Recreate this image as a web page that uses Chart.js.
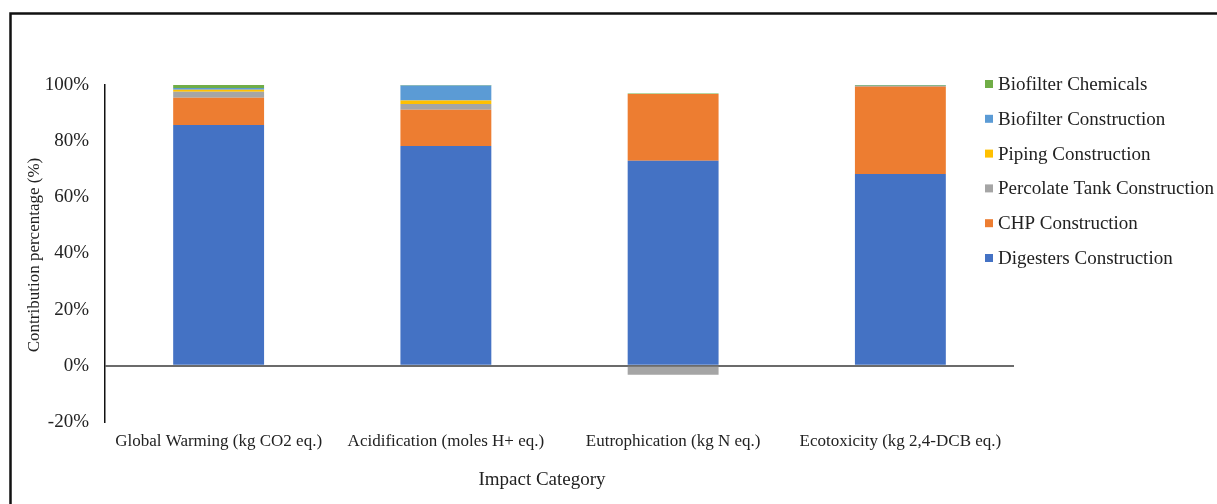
<!DOCTYPE html>
<html>
<head>
<meta charset="utf-8">
<script src="https://cdn.jsdelivr.net/npm/chart.js@4/dist/chart.umd.min.js"></script>
<style>
  html, body { margin: 0; padding: 0; background: #fff; }
  #wrap { position: relative; width: 1217px; height: 504px; }
</style>
</head>
<body>
<div id="wrap"><canvas id="c" width="1217" height="504"></canvas></div>
<script>
// Impact categories on the x axis
const categories = [
  'Global Warming (kg CO2 eq.)',
  'Acidification (moles H+ eq.)',
  'Eutrophication (kg N eq.)',
  'Ecotoxicity (kg 2,4-DCB eq.)'
];

// Contribution (%) of each component to each impact category
const digestersConstruction   = [85.8, 78.3, 73.0, 68.3];
const chpConstruction         = [9.7, 12.9, 23.8, 31.2];
const percolateTankConstruction = [2.1, 2.0, -3.2, 0];
const pipingConstruction      = [0.7, 1.3, 0, 0];
const biofilterConstruction   = [0.6, 5.3, 0, 0.2];
const biofilterChemicals      = [1.1, 0.2, 0.2, 0.3];

const yTicks = [-20, 0, 20, 40, 60, 80, 100];

const seriesNames = [
  'Digesters Construction',
  'CHP Construction',
  'Percolate Tank Construction',
  'Piping Construction',
  'Biofilter Construction',
  'Biofilter Chemicals'
];
const seriesValues = [
  digestersConstruction, chpConstruction, percolateTankConstruction,
  pipingConstruction, biofilterConstruction, biofilterChemicals
];
const seriesColors = ['#4472C4', '#ED7D31', '#A5A5A5', '#FFC000', '#5B9BD5', '#70AD47'];

const SERIF = '"Liberation Serif", "Times New Roman", serif';

// Chart area edges in canvas pixels
const AREA = { left: 105, right: 1014, top: 85, bottom: 422 };

// Outer frame, axis titles and the vertical legend on the right
const decorations = {
  id: 'decorations',
  beforeDraw(chart) {
    const ctx = chart.ctx;
    ctx.save();
    ctx.strokeStyle = '#111';
    ctx.lineWidth = 2.5;
    ctx.beginPath();
    ctx.moveTo(10.5, 504);
    ctx.lineTo(10.5, 13.5);
    ctx.lineTo(1217, 13.5);
    ctx.stroke();
    ctx.restore();
  },
  afterDraw(chart) {
    const ctx = chart.ctx;
    ctx.save();
    ctx.fillStyle = '#222';
    // y axis title
    ctx.font = '17px ' + SERIF;
    ctx.textAlign = 'center';
    ctx.textBaseline = 'middle';
    ctx.translate(35, 255);
    ctx.rotate(-Math.PI / 2);
    ctx.fillText('Contribution percentage (%)', 0, 0);
    ctx.setTransform(1, 0, 0, 1, 0, 0);
    // x axis title
    ctx.font = '19px ' + SERIF;
    ctx.fillText('Impact Category', 542, 480);

    // legend, last series on top
    const ds = chart.data.datasets;
    ctx.font = '19px ' + SERIF;
    ctx.textAlign = 'left';
    for (let i = ds.length - 1, row = 0; i >= 0; i--, row++) {
      const y = 84 + row * 34.8;
      ctx.fillStyle = ds[i].backgroundColor;
      ctx.fillRect(985, y - 4, 8, 8);
      ctx.fillStyle = '#222';
      ctx.fillText(ds[i].label, 998, y + 1);
    }
    ctx.restore();
  }
};

new Chart(document.getElementById('c'), {
  type: 'bar',
  data: {
    labels: categories,
    datasets: seriesNames.map((name, i) => ({
      label: name,
      data: seriesValues[i],
      backgroundColor: seriesColors[i],
      borderWidth: 0,
      categoryPercentage: 1,
      barPercentage: 0.4
    }))
  },
  options: {
    responsive: false,
    animation: false,
    devicePixelRatio: 1,
    layout: { padding: { left: 0, top: AREA.top, right: 1217 - AREA.right, bottom: 0 } },
    plugins: { legend: { display: false }, tooltip: { enabled: false } },
    scales: {
      x: {
        stacked: true,
        grid: { display: false, drawTicks: false },
        border: { display: false },
        ticks: { color: '#222', font: { family: SERIF, size: 17 }, padding: 9, maxRotation: 0, autoSkip: false },
        afterFit(s) { s.height = 504 - AREA.bottom; }
      },
      y: {
        stacked: true,
        min: -20,
        max: 100,
        afterBuildTicks(s) { s.ticks = yTicks.map(v => ({ value: v })); },
        grid: {
          drawTicks: false,
          lineWidth: 2,
          color: c => (c.tick && c.tick.value === 0 ? '#6b6b6b' : 'rgba(0,0,0,0)')
        },
        border: { display: true, color: '#111', width: 1.5 },
        ticks: {
          color: '#222',
          font: { family: SERIF, size: 19 },
          padding: 16,
          callback: v => v + '%'
        },
        afterFit(s) { s.width = AREA.left; }
      }
    }
  },
  plugins: [decorations]
});
</script>
</body>
</html>
